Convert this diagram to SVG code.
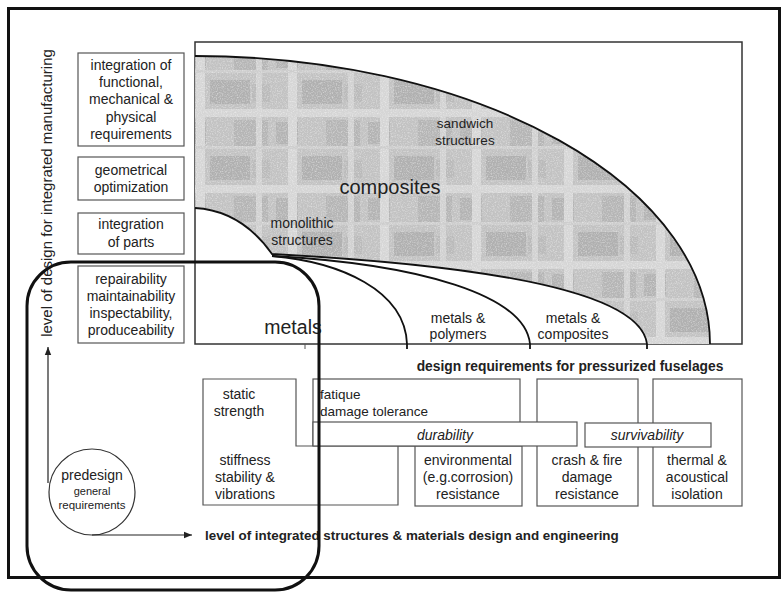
<svg xmlns="http://www.w3.org/2000/svg" width="782" height="592" viewBox="0 0 782 592">
<style>
text{font-family:"Liberation Sans",Arial,sans-serif;fill:#222;}
.t14{font-size:14px;text-anchor:middle;}
.box{fill:#fff;stroke:#555;stroke-width:1.2;}
.curve{fill:none;stroke:#111;stroke-width:1.8;}
.ax{fill:none;stroke:#222;stroke-width:1.2;}
</style>
<defs>
<pattern id="plaid" patternUnits="userSpaceOnUse" width="92" height="76">
<rect width="92" height="76" fill="#c2c2c2"/>
<rect x="26" y="4" width="40" height="24" fill="#b0b0b0"/>
<rect x="0" y="46" width="22" height="22" fill="#b3b3b3"/>
<rect x="50" y="44" width="34" height="26" fill="#b5b5b5"/>
<rect x="68" y="8" width="18" height="18" fill="#bababa"/>
<rect x="12" y="0" width="9" height="76" fill="#d6d6d6"/>
<rect x="72" y="0" width="6" height="76" fill="#d1d1d1"/>
<rect x="0" y="33" width="92" height="8" fill="#d5d5d5"/>
<rect x="0" y="70" width="92" height="3" fill="#cdcdcd"/>
</pattern>
<filter id="grain" x="0" y="0" width="1" height="1">
<feTurbulence type="fractalNoise" baseFrequency="0.8" numOctaves="2" seed="3" result="n"/>
<feColorMatrix in="n" type="matrix" values="0 0 0 0 1  0 0 0 0 1  0 0 0 0 1  0 0 0 -2.2 1.25" result="g"/>
<feComposite in="g" in2="SourceGraphic" operator="in"/>
</filter>
<clipPath id="compClip">
<path d="M195,56 A515,288 0 0 1 710,344 L647,344 C640,290 480,265 272,254 C255,230 230,210 195,208 Z"/>
</clipPath>
<marker id="ah" viewBox="0 0 10 10" refX="10" refY="5" markerWidth="8" markerHeight="8" markerUnits="userSpaceOnUse" orient="auto">
<path d="M0,1 L10,5 L0,9 Z" fill="#222"/>
</marker>
</defs>
<rect x="0" y="0" width="782" height="592" fill="#fff"/>
<rect id="frame" x="8.5" y="8.5" width="771" height="569" fill="none" stroke="#111" stroke-width="3"/>

<g id="chart">
<rect x="195" y="42" width="547" height="302" fill="#fff" stroke="#333" stroke-width="1.5"/>
<path d="M195,56 A515,288 0 0 1 710,344 L647,344 C640,290 480,265 272,254 C255,230 230,210 195,208 Z" fill="url(#plaid)"/>
<g clip-path="url(#compClip)" opacity="0.45"><rect x="195" y="56" width="515" height="288" fill="#fff" filter="url(#grain)"/></g>
<path class="curve" d="M195,56 A515,288 0 0 1 710,344"/>
<path class="curve" d="M195,208 C230,210 255,230 272,254 C480,265 640,290 647,344 L647,349"/>
<path class="curve" d="M272,256 C420,264 525,295 530,344 L530,349"/>
<path class="curve" d="M272,256 C340,262 405,290 407,344 L407,349"/>
<line x1="305" y1="344" x2="305" y2="349" stroke="#555" stroke-width="1"/>
<text x="465" y="128" class="t14" style="font-size:13.5px">sandwich</text>
<text x="465" y="145" class="t14" style="font-size:13.5px">structures</text>
<text x="390" y="194" class="t14" style="font-size:20px">composites</text>
<text x="302" y="228" class="t14">monolithic</text>
<text x="302" y="245" class="t14">structures</text>
<text x="293" y="334" class="t14" style="font-size:19.5px">metals</text>
<text x="458" y="323" class="t14">metals &amp;</text>
<text x="458" y="339" class="t14">polymers</text>
<text x="573" y="323" class="t14">metals &amp;</text>
<text x="573" y="339" class="t14">composites</text>
</g>

<g id="left-boxes">
<g id="box-integration-functional">
<rect class="box" x="78" y="53" width="106" height="93"/>
<text x="131" y="70" class="t14">integration of</text>
<text x="131" y="87" class="t14">functional,</text>
<text x="131" y="104" class="t14">mechanical &amp;</text>
<text x="131" y="122" class="t14">physical</text>
<text x="131" y="139" class="t14">requirements</text>
</g>
<g id="box-geometrical">
<rect class="box" x="78" y="157" width="106" height="43"/>
<text x="131" y="175" class="t14">geometrical</text>
<text x="131" y="192" class="t14">optimization</text>
</g>
<g id="box-parts">
<rect class="box" x="78" y="213" width="106" height="41"/>
<text x="131" y="229" class="t14">integration</text>
<text x="131" y="247" class="t14">of parts</text>
</g>
<g id="box-repairability">
<rect class="box" x="78" y="266" width="106" height="77"/>
<text x="131" y="284" class="t14">repairability</text>
<text x="131" y="301" class="t14">maintainability</text>
<text x="131" y="318" class="t14">inspectability,</text>
<text x="131" y="335" class="t14">produceability</text>
</g>
</g>

<text id="y-axis-label" transform="translate(52,193) rotate(-90)" style="font-size:15px;text-anchor:middle">level of design for integrated manufacturing</text>
<text id="req-title" x="570" y="371" style="font-size:13.8px;font-weight:bold;text-anchor:middle">design requirements for pressurized fuselages</text>

<g id="requirements">
<g id="box-crash">
<rect class="box" x="537" y="379" width="101" height="127"/>
<text x="587" y="465" class="t14">crash &amp; fire</text>
<text x="587" y="482" class="t14">damage</text>
<text x="587" y="499" class="t14">resistance</text>
</g>
<g id="box-thermal">
<rect class="box" x="653" y="379" width="89" height="127"/>
<text x="697" y="465" class="t14">thermal &amp;</text>
<text x="697" y="482" class="t14">acoustical</text>
<text x="697" y="499" class="t14">isolation</text>
</g>
<g id="box-fatigue">
<rect class="box" x="313" y="379" width="207" height="67"/>
<text x="320" y="399" style="font-size:13.5px">fatique</text>
<text x="320" y="416" style="font-size:13.5px">damage tolerance</text>
</g>
<g id="box-static">
<path class="box" d="M203,379 H296 V446 H398 V505 H203 Z"/>
<text x="239" y="399" class="t14">static</text>
<text x="239" y="416" class="t14">strength</text>
<text x="245" y="465" class="t14">stiffness</text>
<text x="245" y="482" class="t14">stability &amp;</text>
<text x="245" y="499" class="t14">vibrations</text>
</g>
<g id="box-environmental">
<rect class="box" x="415" y="446" width="107" height="60"/>
<text x="468" y="465" class="t14">environmental</text>
<text x="468" y="482" class="t14">(e.g.corrosion)</text>
<text x="468" y="499" class="t14">resistance</text>
</g>
<g id="bar-durability">
<rect class="box" x="313" y="422" width="264" height="24"/>
<text x="445" y="440" class="t14" style="font-style:italic">durability</text>
</g>
<g id="bar-survivability">
<rect class="box" x="585" y="423" width="126" height="24"/>
<text x="647" y="440" class="t14" style="font-style:italic">survivability</text>
</g>
</g>

<g id="predesign">
<circle cx="92" cy="492" r="43" fill="#fff" stroke="#333" stroke-width="1.2"/>
<text x="92" y="480" class="t14">predesign</text>
<text x="92" y="495" class="t14" style="font-size:11px">general</text>
<text x="92" y="509" class="t14" style="font-size:11.5px">requirements</text>
</g>

<g id="connectors">
<line class="ax" x1="48" y1="483" x2="48" y2="347" marker-end="url(#ah)"/>
<line class="ax" x1="92" y1="535" x2="192" y2="535" marker-end="url(#ah)"/>
</g>
<text id="x-axis-label" x="205" y="540" style="font-size:13.4px;font-weight:bold">level of integrated structures &amp; materials design and engineering</text>

<rect id="highlight" x="27" y="262" width="292" height="328" rx="44" ry="44" fill="none" stroke="#111" stroke-width="3"/>
</svg>
